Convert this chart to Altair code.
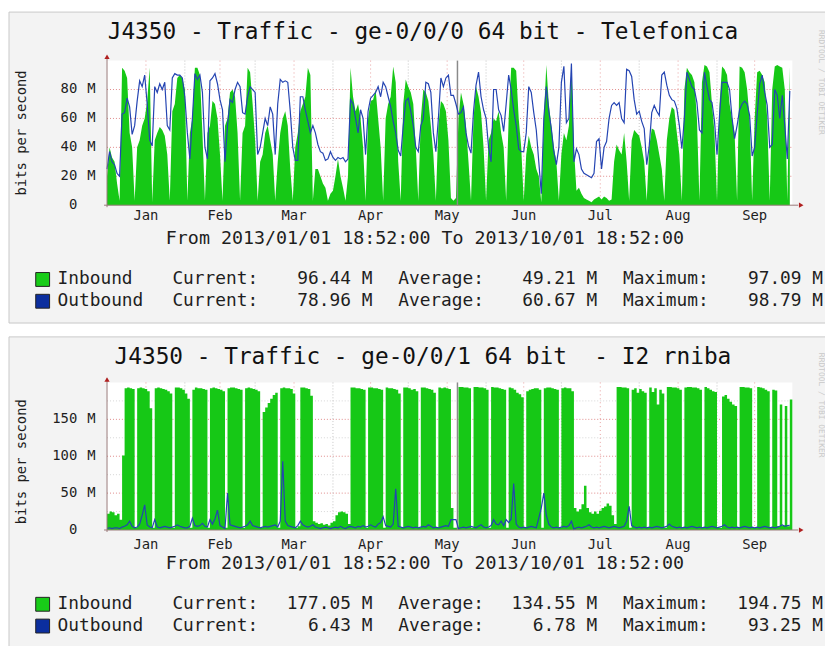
import altair as alt
import pandas as pd

# ---------------- data (values in Mbit/s, one per day from 2013-01-01) ----------------
DAYS = list(range(273))

IN1 = [
    20, 40, 33, 30, 15, 3, 95,
    93, 88, 50, 40, 3, 40, 45,
    55, 60, 72, 95, 2, 45, 50,
    54, 52, 48, 35, 3, 65, 70,
    88, 90, 88, 80, 3, 50, 60,
    95, 95, 90, 50, 3, 50, 55,
    72, 70, 60, 35, 3, 55, 60,
    78, 80, 75, 50, 3, 50, 55,
    95, 92, 70, 45, 3, 30, 35,
    50, 55, 45, 35, 3, 30, 50,
    60, 65, 55, 25, 3, 40, 50,
    65, 70, 75, 95, 90, 3, 25,
    25, 20, 15, 12, 3, 8, 10,
    20, 32, 20, 12, 3, 20, 95,
    75, 65, 70, 60, 40, 3, 60,
    72, 73, 80, 60, 40, 3, 60,
    70, 75, 96, 85, 30, 3, 70,
    87, 82, 78, 70, 40, 3, 60,
    80, 78, 72, 55, 35, 3, 55,
    72, 70, 65, 45, 5, 3, 5,
    60, 78, 70, 55, 30, 3, 60,
    82, 75, 64, 40, 3, 45, 50,
    60, 58, 65, 50, 40, 3, 60,
    95, 95, 93, 60, 40, 3, 35,
    48, 40, 35, 25, 20, 2, 60,
    97, 70, 55, 40, 30, 3, 35,
    50, 45, 55, 96, 40, 10, 12,
    8, 5, 4, 3, 2, 4, 5,
    6, 4, 6, 5, 3, 4, 30,
    42, 38, 35, 50, 30, 3, 45,
    52, 50, 48, 40, 30, 3, 40,
    53, 52, 45, 35, 25, 3, 45,
    60, 68, 66, 50, 35, 3, 80,
    95, 92, 90, 85, 60, 3, 85,
    97, 96, 92, 70, 50, 3, 70,
    96, 94, 90, 70, 60, 50, 3,
    96, 95, 92, 80, 60, 3, 60,
    92, 93, 90, 85, 60, 3, 80,
    96, 97, 96, 95, 80, 3, 96,
]

OUT1 = [
    25, 37, 30, 28, 22, 20, 63,
    64, 74, 68, 49, 55, 72, 86,
    82, 90, 70, 45, 41, 82, 78,
    84, 80, 85, 55, 52, 88, 91,
    90, 90, 88, 75, 50, 32, 60,
    91, 87, 90, 78, 40, 32, 86,
    88, 91, 84, 73, 66, 30, 55,
    73, 71, 80, 85, 82, 64, 63,
    75, 82, 80, 78, 35, 40, 50,
    60, 55, 68, 63, 35, 70, 87,
    85, 86, 85, 65, 40, 31, 31,
    75, 75, 66, 58, 50, 55, 50,
    42, 37, 36, 31, 32, 37, 33,
    31, 33, 32, 33, 30, 32, 73,
    70, 60, 50, 66, 60, 35, 65,
    74, 76, 78, 82, 75, 85, 82,
    75, 68, 58, 50, 38, 34, 55,
    72, 74, 65, 55, 40, 37, 55,
    60, 85, 84, 78, 50, 37, 60,
    88, 82, 88, 90, 76, 76, 70,
    63, 64, 68, 50, 41, 36, 65,
    83, 92, 75, 66, 60, 40, 30,
    80, 80, 66, 62, 51, 70, 90,
    80, 66, 55, 39, 37, 37, 50,
    82, 78, 64, 52, 30, 8, 60,
    82, 65, 53, 37, 28, 40, 85,
    96, 57, 60, 98, 30, 39, 35,
    25, 22, 21, 20, 19, 22, 44,
    46, 25, 40, 44, 60, 69, 71,
    69, 71, 60, 57, 94, 93, 89,
    73, 63, 65, 58, 53, 28, 41,
    64, 69, 65, 62, 90, 92, 83,
    76, 73, 72, 67, 55, 39, 60,
    92, 87, 82, 80, 71, 52, 50,
    92, 82, 73, 71, 58, 35, 62,
    85, 85, 85, 80, 60, 46, 55,
    66, 70, 72, 70, 62, 34, 40,
    63, 84, 90, 78, 69, 40, 42,
    80, 76, 60, 76, 55, 32, 79,
]

IN2 = [
    22, 25, 24, 20, 22, 14, 101,
    192, 193, 192, 191, 3, 192, 193,
    192, 191, 188, 165, 3, 192, 193,
    192, 191, 190, 188, 185, 3, 193,
    193, 192, 190, 185, 178, 3, 190,
    193, 192, 192, 191, 190, 3, 192,
    193, 192, 191, 190, 188, 3, 192,
    193, 193, 192, 191, 190, 3, 192,
    193, 192, 191, 190, 188, 3, 160,
    166, 172, 178, 183, 186, 3, 192,
    193, 192, 192, 191, 185, 3, 5,
    193, 193, 192, 191, 182, 12, 10,
    8, 9, 7, 8, 6, 10, 12,
    20, 24, 25, 24, 22, 8, 193,
    193, 192, 192, 191, 190, 3, 193,
    193, 192, 192, 191, 190, 3, 193,
    192, 192, 191, 190, 185, 3, 193,
    193, 192, 190, 191, 188, 3, 193,
    193, 192, 191, 190, 186, 3, 193,
    192, 193, 192, 191, 30, 3, 3,
    194, 194, 193, 193, 192, 3, 194,
    194, 193, 193, 192, 190, 3, 194,
    193, 193, 192, 191, 190, 3, 193,
    192, 190, 186, 184, 180, 3, 188,
    190, 191, 192, 192, 190, 3, 192,
    193, 193, 192, 191, 190, 3, 192,
    193, 192, 192, 188, 30, 25, 28,
    35, 60, 30, 24, 22, 25, 22,
    26, 30, 32, 36, 33, 20, 8,
    194, 194, 193, 193, 192, 3, 190,
    192, 186, 191, 188, 186, 3, 193,
    187, 192, 170, 190, 185, 3, 194,
    194, 193, 193, 192, 190, 3, 193,
    194, 194, 193, 193, 192, 190, 3,
    194, 192, 190, 188, 187, 3, 3,
    181, 183, 178, 174, 170, 168, 3,
    194, 194, 193, 193, 192, 3, 3,
    194, 193, 192, 190, 188, 3, 190,
    189, 5, 170, 6, 168, 5, 177,
]

OUT2 = [
    2, 3, 2, 3, 3, 2, 4,
    5, 7, 12, 5, 3, 4, 8,
    20, 34, 7, 4, 3, 14, 4,
    3, 4, 5, 4, 3, 4, 5,
    7, 5, 4, 3, 3, 5, 16,
    6, 5, 6, 9, 5, 4, 14,
    8, 15, 27, 6, 4, 2, 50,
    7, 6, 5, 4, 3, 4, 5,
    7, 12, 6, 5, 4, 3, 4,
    5, 4, 5, 6, 7, 4, 12,
    93, 12, 6, 5, 4, 3, 6,
    12, 7, 5, 4, 5, 7, 4,
    3, 2, 3, 4, 3, 2, 3,
    4, 3, 5, 3, 2, 4, 5,
    4, 3, 5, 4, 6, 4, 5,
    7, 5, 4, 8, 10, 18, 6,
    5, 4, 8, 56, 5, 4, 3,
    4, 5, 4, 3, 4, 3, 4,
    5, 4, 7, 5, 3, 4, 3,
    4, 5, 6, 5, 14, 14, 14,
    2, 3, 4, 3, 4, 5, 4,
    3, 5, 7, 4, 3, 4, 6,
    14, 8, 7, 12, 6, 14, 10,
    15, 63, 8, 4, 3, 4, 3,
    4, 5, 4, 3, 16, 30, 50,
    20, 8, 4, 3, 4, 3, 4,
    5, 4, 6, 12, 1, 3, 4,
    3, 4, 5, 7, 4, 3, 4,
    3, 4, 5, 4, 3, 4, 5,
    4, 3, 4, 5, 12, 32, 6,
    4, 3, 4, 3, 4, 3, 4,
    3, 4, 5, 4, 3, 4, 5,
    8, 5, 4, 3, 4, 3, 4,
    3, 4, 5, 4, 3, 4, 3,
    4, 3, 4, 5, 4, 3, 4,
    5, 7, 4, 3, 4, 3, 4,
    3, 4, 5, 4, 3, 4, 3,
    4, 3, 4, 5, 4, 3, 4,
    3, 4, 5, 7, 5, 6, 6.43,
]

MONTHS = ["Jan", "Feb", "Mar", "Apr", "May", "Jun", "Jul", "Aug", "Sep"]
MONTH_START = [0, 31, 59, 90, 120, 151, 181, 212, 243]
MONTH_END = [31, 59, 90, 120, 151, 181, 212, 243, 273]
GAP_DAY = [139.6]

TITLES = ["J4350 - Traffic - ge-0/0/0 64 bit - Telefonica",
          "J4350 - Traffic - ge-0/0/1 64 bit\u00a0 - I2 rniba"]
FROM_TEXT = "From 2013/01/01 18:52:00 To 2013/10/01 18:52:00"
Y_LABEL = "bits per second"
WATERMARK = "RRDTOOL / TOBI OETIKER"

TICKS1 = [0, 20, 40, 60, 80]
TICKS2 = [0, 50, 100, 150]
MINOR2 = [25, 75, 125, 175]

SERIES = ["Inbound", "Outbound"]
CUR1, AVG1, MAX1 = ["96.44 M", "78.96 M"], ["49.21 M", "60.67 M"], ["97.09 M", "98.79 M"]
CUR2, AVG2, MAX2 = ["177.05 M", "6.43 M"], ["134.55 M", "6.78 M"], ["194.75 M", "93.25 M"]

# ---------------- styling ----------------
FONT = "DejaVu Sans Mono"
GREEN = "#16c816"
BLUE = "#2444b2"
SQ_COLORS = ["#18cc18", "#0b2e9e"]
TXT = "#1e1e1e"
XS = alt.Scale(domain=[0, 273], range=[100, 792])


def one():
    return pd.DataFrame({"k": [0]})


def txt(s, x, y, size, align="left", baseline="middle", angle=0, color=TXT):
    return alt.Chart(pd.DataFrame({"t": [s]})).mark_text(
        align=align, baseline=baseline, fontSize=size, font=FONT, color=color, angle=angle
    ).encode(x=alt.value(x), y=alt.value(y), text="t:N")


def panel(geo, inb, out, ys, ticks, minor, title, cur, avg, mx, step):
    L = []
    top, bot = geo["top"], geo["bot"]
    # panel background + canvas
    L.append(alt.Chart(one()).mark_rect(fill="#f3f3f3", stroke="#c8c8c8", strokeWidth=1).encode(
        x=alt.value(1), x2=alt.value(845), y=alt.value(geo["bg"][0]), y2=alt.value(geo["bg"][1])))
    L.append(alt.Chart(one()).mark_rect(fill="white").encode(
        x=alt.value(100), x2=alt.value(792), y=alt.value(top), y2=alt.value(bot)))
    # grid
    if minor:
        L.append(alt.Chart(pd.DataFrame({"v": minor})).mark_rule(
            color="#d6d6d6", strokeDash=[1, 2], strokeWidth=1).encode(
            y=alt.Y("v:Q", scale=ys, axis=None), x=alt.value(100), x2=alt.value(792)))
    L.append(alt.Chart(pd.DataFrame({"v": [t for t in ticks if t > 0]})).mark_rule(
        color="#e08a8a", strokeDash=[1, 2], strokeWidth=1).encode(
        y=alt.Y("v:Q", scale=ys, axis=None), x=alt.value(100), x2=alt.value(792)))
    L.append(alt.Chart(pd.DataFrame({"d": MONTH_START[1:]})).mark_rule(
        color="#c4c4c4", strokeDash=[1, 2], strokeWidth=1).encode(
        x=alt.X("d:Q", scale=XS, axis=None), y=alt.value(top), y2=alt.value(bot)))
    mids = [(a + b) / 2 for a, b in zip(MONTH_START, MONTH_END)]
    L.append(alt.Chart(pd.DataFrame({"d": mids})).mark_rule(
        color="#e8a0a0", strokeDash=[1, 3], strokeWidth=1).encode(
        x=alt.X("d:Q", scale=XS, axis=None), y=alt.value(top), y2=alt.value(bot)))
    # data
    if step:
        # each daily value holds until the next day (last one held to the end)
        adf = pd.DataFrame({"day": DAYS + [len(DAYS)], "inb": inb + [inb[-1]]})
        interp = "step-after"
    else:
        adf = pd.DataFrame({"day": DAYS, "inb": inb})
        interp = "linear"
    ldf = pd.DataFrame({"day": DAYS, "out": out})
    L.append(alt.Chart(adf).mark_area(color=GREEN, opacity=1, interpolate=interp).encode(
        x=alt.X("day:Q", scale=XS, axis=None), y=alt.Y("inb:Q", scale=ys, axis=None)))
    L.append(alt.Chart(pd.DataFrame({"d": GAP_DAY})).mark_rule(color="#8a8a8a", strokeWidth=1.5).encode(
        x=alt.X("d:Q", scale=XS, axis=None), y=alt.value(top), y2=alt.value(bot)))
    L.append(alt.Chart(ldf).mark_line(color=BLUE, strokeWidth=1.2).encode(
        x=alt.X("day:Q", scale=XS, axis=None), y=alt.Y("out:Q", scale=ys, axis=None)))
    # axes lines and arrows
    L.append(alt.Chart(one()).mark_rule(color="#9a7a7a", strokeWidth=1).encode(
        x=alt.value(100), y=alt.value(top - 4), y2=alt.value(bot + 2)))
    L.append(alt.Chart(one()).mark_rule(color="#9a7a7a", strokeWidth=1).encode(
        x=alt.value(97), x2=alt.value(798), y=alt.value(bot)))
    L.append(alt.Chart(one()).mark_point(shape="triangle-up", filled=True, size=28,
                                         color="#b02020", opacity=1).encode(
        x=alt.value(100), y=alt.value(geo["arrow_y"])))
    L.append(alt.Chart(one()).mark_point(shape="triangle-right", filled=True, size=28,
                                         color="#b02020", opacity=1).encode(
        x=alt.value(801), y=alt.value(bot)))
    # y tick labels
    tdf = pd.DataFrame({"v": ticks, "lab": [str(t) for t in ticks]})
    L.append(alt.Chart(tdf).mark_text(align="right", baseline="middle", fontSize=14, font=FONT,
                                      color=TXT).encode(
        y=alt.Y("v:Q", scale=ys, axis=None), x=alt.value(70), text="lab:N"))
    udf = pd.DataFrame({"v": [t for t in ticks if t > 0], "u": ["M"] * (len(ticks) - 1)})
    L.append(alt.Chart(udf).mark_text(align="left", baseline="middle", fontSize=14, font=FONT,
                                      color=TXT).encode(
        y=alt.Y("v:Q", scale=ys, axis=None), x=alt.value(80), text="u:N"))
    # month labels
    mdf = pd.DataFrame({"d": mids, "m": MONTHS})
    L.append(alt.Chart(mdf).mark_text(align="center", baseline="middle", fontSize=14, font=FONT,
                                      color=TXT).encode(
        x=alt.X("d:Q", scale=XS, axis=None), y=alt.value(geo["month_y"]), text="m:N"))
    # texts
    L.append(txt(title, 419, geo["title_y"], 23, align="center", baseline="alphabetic", color="#111"))
    L.append(txt(Y_LABEL, 14, geo["ylab_y"], 14, align="center", angle=270))
    L.append(txt(FROM_TEXT, 421, geo["from_y"], 18.5, align="center"))
    L.append(txt(WATERMARK, 821, geo["wm_y"], 8, align="center", angle=90, color="#c9c9c9"))
    # legend
    for i in range(2):
        yy = geo["leg"][i]
        L.append(alt.Chart(one()).mark_rect(fill=SQ_COLORS[i], stroke="#222", strokeWidth=1).encode(
            x=alt.value(28), x2=alt.value(42), y=alt.value(yy - 7), y2=alt.value(yy + 7)))
        L.append(txt(SERIES[i], 50, yy, 18))
        L.append(txt("Current:", 166, yy, 18))
        L.append(txt(cur[i], 368, yy, 18, align="right"))
        L.append(txt("Average:", 394, yy, 18))
        L.append(txt(avg[i], 595, yy, 18, align="right"))
        L.append(txt("Maximum:", 621, yy, 18))
        L.append(txt(mx[i], 823, yy, 18, align="right"))
    return L


Y1 = alt.Scale(domain=[0, 100], range=[196, 50])
Y2 = alt.Scale(domain=[0, 200], range=[524, 375])

G1 = dict(bg=(1, 315), top=50, bot=196, arrow_y=46, title_y=28, ylab_y=123, month_y=207,
          from_y=229, leg=(271, 293), wm_y=72)
G2 = dict(bg=(329, 700), top=375, bot=524, arrow_y=372, title_y=356, ylab_y=455, month_y=539,
          from_y=557, leg=(599, 621), wm_y=398)

layers = (panel(G1, IN1, OUT1, Y1, TICKS1, None, TITLES[0], CUR1, AVG1, MAX1, False)
          + panel(G2, IN2, OUT2, Y2, TICKS2, MINOR2, TITLES[1], CUR2, AVG2, MAX2, True))

chart = alt.layer(*layers).resolve_scale(y="independent").properties(
    width=825, height=638, autosize=alt.AutoSizeParams(type="none"), padding=0,
    background="white"
).configure_view(stroke=None)

chart.save("out.html", embed_options={"renderer": "svg", "actions": False})
